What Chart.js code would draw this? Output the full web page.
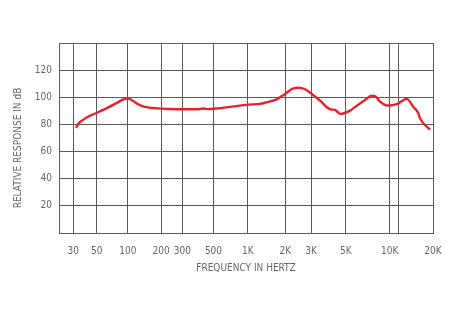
<!DOCTYPE html>
<html lang="en">
<head>
  <meta charset="UTF-8">
  <title>Frequency Response</title>
  <style>
    html, body { margin: 0; padding: 0; background: #fff; }
    .chart-box { position: relative; width: 450px; height: 312px; }
  </style>
</head>
<body>
  <div class="chart-box">
    <canvas id="responseChart"></canvas>
  </div>

  <script src="https://cdn.jsdelivr.net/npm/chart.js"></script>
  <script>
    // curve: frequency (Hz) and response (dB)
    const freqHz = [32, 33, 41, 51.5, 64, 80, 93.5, 102, 108, 124, 142, 175, 229,
      330, 390, 420, 460, 517, 724, 1011, 1254, 1376, 1706, 1990, 2269, 2455, 2729,
      3030, 3424, 3969, 4272, 4598, 5350, 5637, 6780, 7533, 8062, 8587, 9795,
      11190, 13134, 14590, 15810, 16240, 19060];
    const responseDb = [77.3, 79.7, 85.4, 89.0, 92.4, 96.3, 98.8, 99.0, 98.0, 94.9, 92.9, 92.0, 91.4,
      91.2, 91.2, 91.7, 91.3, 91.7, 93.1, 94.6, 95.1, 96.0, 98.5, 102.4, 106.6, 107.0, 105.9,
      102.4, 97.5, 91.2, 90.7, 87.8, 90.2, 92.0, 98.0, 101.2, 100.4, 96.8, 93.9,
      94.9, 98.8, 93.1, 88.3, 84.6, 76.1];

    // x-axis ticks
    const tickFreqs = [30, 50, 100, 200, 300, 500, 1000, 2000, 3000, 5000, 10000, 20000];
    const tickLabels = ['30', '50', '100', '200', '300', '500', '1K', '2K', '3K', '5K', '10K', '20K'];
    const extraGridFreq = 11600;   // unlabeled grid line next to 10K
    const yTicks = [20, 40, 60, 80, 100, 120];

    // the printed grid is not a true log scale: spacing of the lines
    // as a fraction of plot width, one per tick frequency
    const gridFrac = [0.038, 0.101, 0.184, 0.273, 0.330, 0.413, 0.505, 0.605, 0.674, 0.767, 0.884, 1.0];

    function freqToU(f) {
      const lf = Math.log10(f);
      const lt = tickFreqs.map(Math.log10);
      let i = 0;
      while (i < lt.length - 2 && lf > lt[i + 1]) i++;
      const t = (lf - lt[i]) / (lt[i + 1] - lt[i]);
      return gridFrac[i] + t * (gridFrac[i + 1] - gridFrac[i]);
    }

    const points = freqHz.map((f, i) => ({ x: freqToU(f), y: responseDb[i] }));
    const gridU = tickFreqs.map(freqToU);
    const extraU = freqToU(extraGridFreq);

    const font = { family: "'Liberation Sans Narrow', 'DejaVu Sans Condensed', sans-serif", size: 10 };
    const gridColor = '#5a5a5a';
    const textColor = '#666';

    const config = {
      type: 'line',
      data: {
        datasets: [{
          data: points,
          borderColor: '#e8202c',
          borderWidth: 2.4,
          pointRadius: 0,
          tension: 0.4,
          cubicInterpolationMode: 'monotone',
          fill: false
        }]
      },
      options: {
        responsive: true,
        maintainAspectRatio: false,
        animation: false,
        layout: { padding: { top: 43, right: 17, left: 0, bottom: 0 } },
        plugins: { legend: { display: false }, tooltip: { enabled: false } },
        scales: {
          x: {
            type: 'linear',
            min: 0,
            max: 1,
            afterBuildTicks: axis => {
              const ticks = gridU.map(v => ({ value: v }));
              ticks.splice(11, 0, { value: extraU });
              axis.ticks = ticks;
            },
            afterFit: axis => {
              axis.height = 79;
              axis.paddingLeft = 0;
              axis.paddingRight = 0;
            },
            ticks: {
              autoSkip: false,
              maxRotation: 0,
              padding: 12,
              color: textColor,
              font: font,
              callback: value => {
                const i = gridU.findIndex(u => Math.abs(u - value) < 1e-6);
                return i >= 0 ? tickLabels[i] : '';
              }
            },
            grid: { color: gridColor, lineWidth: 1, drawTicks: false },
            border: { display: true, color: gridColor },
            title: {
              display: true,
              text: 'FREQUENCY IN HERTZ',
              color: textColor,
              font: font,
              padding: { top: 4, bottom: 38 }
            }
          },
          y: {
            min: 0,
            max: 140,
            afterBuildTicks: axis => {
              axis.ticks = [0, ...yTicks, 140].map(v => ({ value: v }));
            },
            afterFit: axis => { axis.width = 59; },
            ticks: {
              padding: 7,
              color: textColor,
              font: font,
              callback: v => (yTicks.includes(v) ? String(v) : '')
            },
            grid: { color: gridColor, lineWidth: 1, drawTicks: false },
            border: { display: true, color: gridColor },
            title: {
              display: true,
              // trailing spaces nudge the rotated title a little below centre
              text: 'RELATIVE RESPONSE IN dB       ',
              color: textColor,
              font: font,
              padding: { top: 12, bottom: 4 }
            }
          }
        }
      }
    };

    window.addEventListener('load', () => {
      const ctx = document.getElementById('responseChart').getContext('2d');
      new Chart(ctx, config);
    });
  </script>
</body>
</html>
